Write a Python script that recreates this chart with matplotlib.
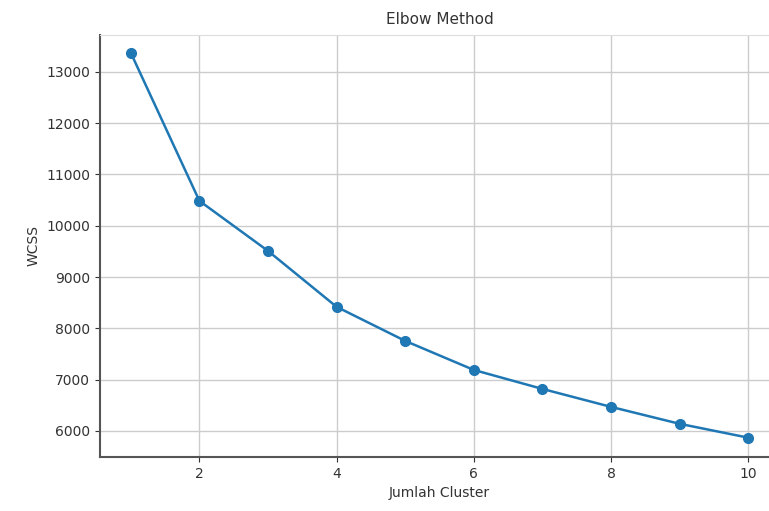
import matplotlib
matplotlib.use("Agg")
import matplotlib.pyplot as plt

clusters = [1, 2, 3, 4, 5, 6, 7, 8, 9, 10]
wcss = [13370, 10485, 9510, 8420, 7756, 7190, 6820, 6470, 6140, 5870]

fig = plt.figure(figsize=(7.69, 5.11), dpi=100)
ax = fig.add_axes([0.130, 0.1057, 0.883, 0.826])

ax.plot(clusters, wcss, marker='o', color='#1f77b4', linewidth=1.8, markersize=7)
ax.set_xlim(0.55, 10.45)
ax.set_ylim(5493, 13721)
ax.set_xticks([2, 4, 6, 8, 10])
ax.set_yticks(range(6000, 14000, 1000))
ax.grid(True, color='#cccccc', linewidth=1.0)

ax.spines['left'].set_color('#555555')
ax.spines['bottom'].set_color('#555555')
ax.spines['left'].set_linewidth(1.5)
ax.spines['bottom'].set_linewidth(1.5)
ax.spines['top'].set_color('#dddddd')
ax.spines['right'].set_visible(False)
ax.tick_params(colors='#333333', labelsize=10)

ax.set_title('Elbow Method', fontsize=11, color='#333333', pad=8)
ax.set_xlabel('Jumlah Cluster', fontsize=10, color='#333333')
ax.set_ylabel('WCSS', fontsize=10, color='#333333')

fig.savefig('out.png', dpi=100)
